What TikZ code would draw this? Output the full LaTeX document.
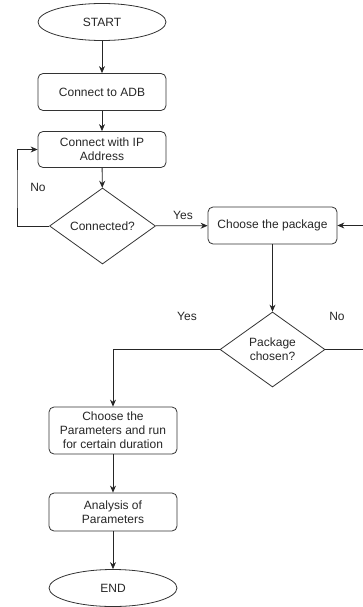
\documentclass[tikz,border=0pt]{standalone}
\usepackage{fontspec}
\setmainfont{Liberation Sans}
\usepackage{tikz}
\usetikzlibrary{arrows.meta,positioning,shapes.geometric,calc}

\begin{document}
\begin{tikzpicture}[x=1pt,y=1pt,font=\fontsize{12}{14}\selectfont,
  box/.style={draw=black!80,rounded corners=5pt,align=center,text=black!85,minimum width=128pt,minimum height=#1,inner sep=2pt,line width=0.8pt},
  box/.default=37pt,
  term/.style={draw=black!80,ellipse,minimum width=128pt,minimum height=37pt,inner sep=0pt,text=black!85,line width=0.8pt},
  dec/.style={draw=black!80,diamond,minimum width=106pt,minimum height=76pt,inner sep=0pt,align=center,text=black!85,line width=0.8pt},
  lbl/.style={text=black!85,inner sep=1pt},
  arr/.style={-{Stealth[length=7pt,width=6pt]},line width=0.8pt,black!85}]
\useasboundingbox (0,0) rectangle (363,-607);
\node[term]      (start)  at (102,-22)    {START};
\node[box]       (adb)    at (102,-92)    {Connect to ADB};
\node[box=36pt]  (ip)     at (102,-149.5) {Connect with IP\\Address};
\node[dec]       (conn)   at (102.5,-226) {Connected?};
\node[box,minimum width=129pt] (pkg) at (272.5,-225.5) {Choose the package};
\node[dec,minimum width=105pt,minimum height=75pt] (chosen) at (272.5,-349.5) {Package\\chosen?};
\node[box=47pt]  (params) at (113,-430.5) {Choose the\\Parameters and run\\for certain duration};
\node[box=38pt]  (anal)   at (113,-512)   {Analysis of\\Parameters};
\node[term]      (end)    at (113,-588)   {END};
% labels
\node[lbl] (no1)  at (38,-187)  {No};
\node[lbl] (yes1) at (183,-215) {Yes};
\node[lbl] (yes2) at (187,-316) {Yes};
\node[lbl] (no2)  at (337,-316) {No};
\coordinate (back) at (365,-349.5);
\draw[arr] (start)--(adb); \draw[arr] (adb)--(ip); \draw[arr] (ip)--(conn);
\draw[arr] (conn.west) -| (17,-190) |- (ip.west);
\draw[arr] (conn)--(pkg); \draw[arr] (pkg)--(chosen);
\draw[arr] (chosen.west) -| (params.north);
\draw[arr] (chosen.east)--(back) |- (pkg.east);
\draw[arr] (params)--(anal); \draw[arr] (anal)--(end);
\end{tikzpicture}
\end{document}
